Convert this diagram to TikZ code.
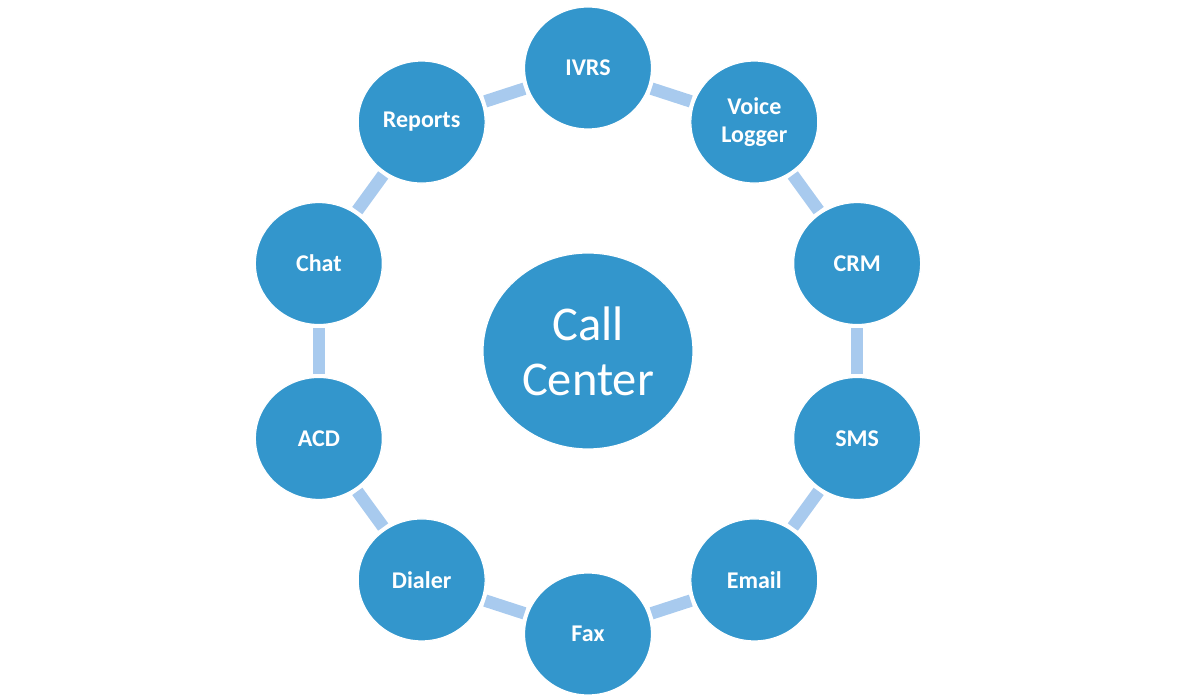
\documentclass[tikz,border=0pt]{standalone}
\usepackage{fontspec}
\setmainfont{Carlito}
\usepackage{tikz}
\usetikzlibrary{shapes.geometric}

\definecolor{hubblue}{RGB}{51,150,204}
\definecolor{linkblue}{RGB}{168,202,238}

\tikzset{
  unit/.style={ellipse, fill=hubblue, draw=white, line width=1.2pt,
    minimum width=127pt, minimum height=122pt, inner sep=0pt,
    text=white, align=center, font=\fontsize{24}{27.5}\selectfont\bfseries},
  hub/.style={unit, minimum width=210pt, minimum height=196pt,
    font=\fontsize{48.5}{55}\selectfont},
  link/.style={linkblue, line width=12.5pt, shorten >=3pt, shorten <=3pt}
}

\begin{document}
\begin{tikzpicture}[x=1pt, y=1pt]
\useasboundingbox (-588,-349) rectangle (589,351);

% Parameters
\def\R{283}   % radius of the ring of units

% The hub
\node[hub] (cc) at (0,0) {Call\\Center};

% The ten units round the ring, clockwise from the top
\foreach \k/\name/\txt in {0/ivrs/IVRS, 1/voice/{Voice\\Logger}, 2/crm/CRM,
    3/sms/SMS, 4/email/Email, 5/fax/Fax, 6/dialer/Dialer, 7/acd/ACD,
    8/chat/Chat, 9/reports/Reports} {
  \node[unit] (\name) at ({90-36*\k}:\R) {\txt};
}

% Links between neighbours
\foreach \a/\b in {ivrs/voice, voice/crm, crm/sms, sms/email, email/fax,
    fax/dialer, dialer/acd, acd/chat, chat/reports, reports/ivrs} {
  \draw[link] (\a) -- (\b);
}
\end{tikzpicture}
\end{document}
